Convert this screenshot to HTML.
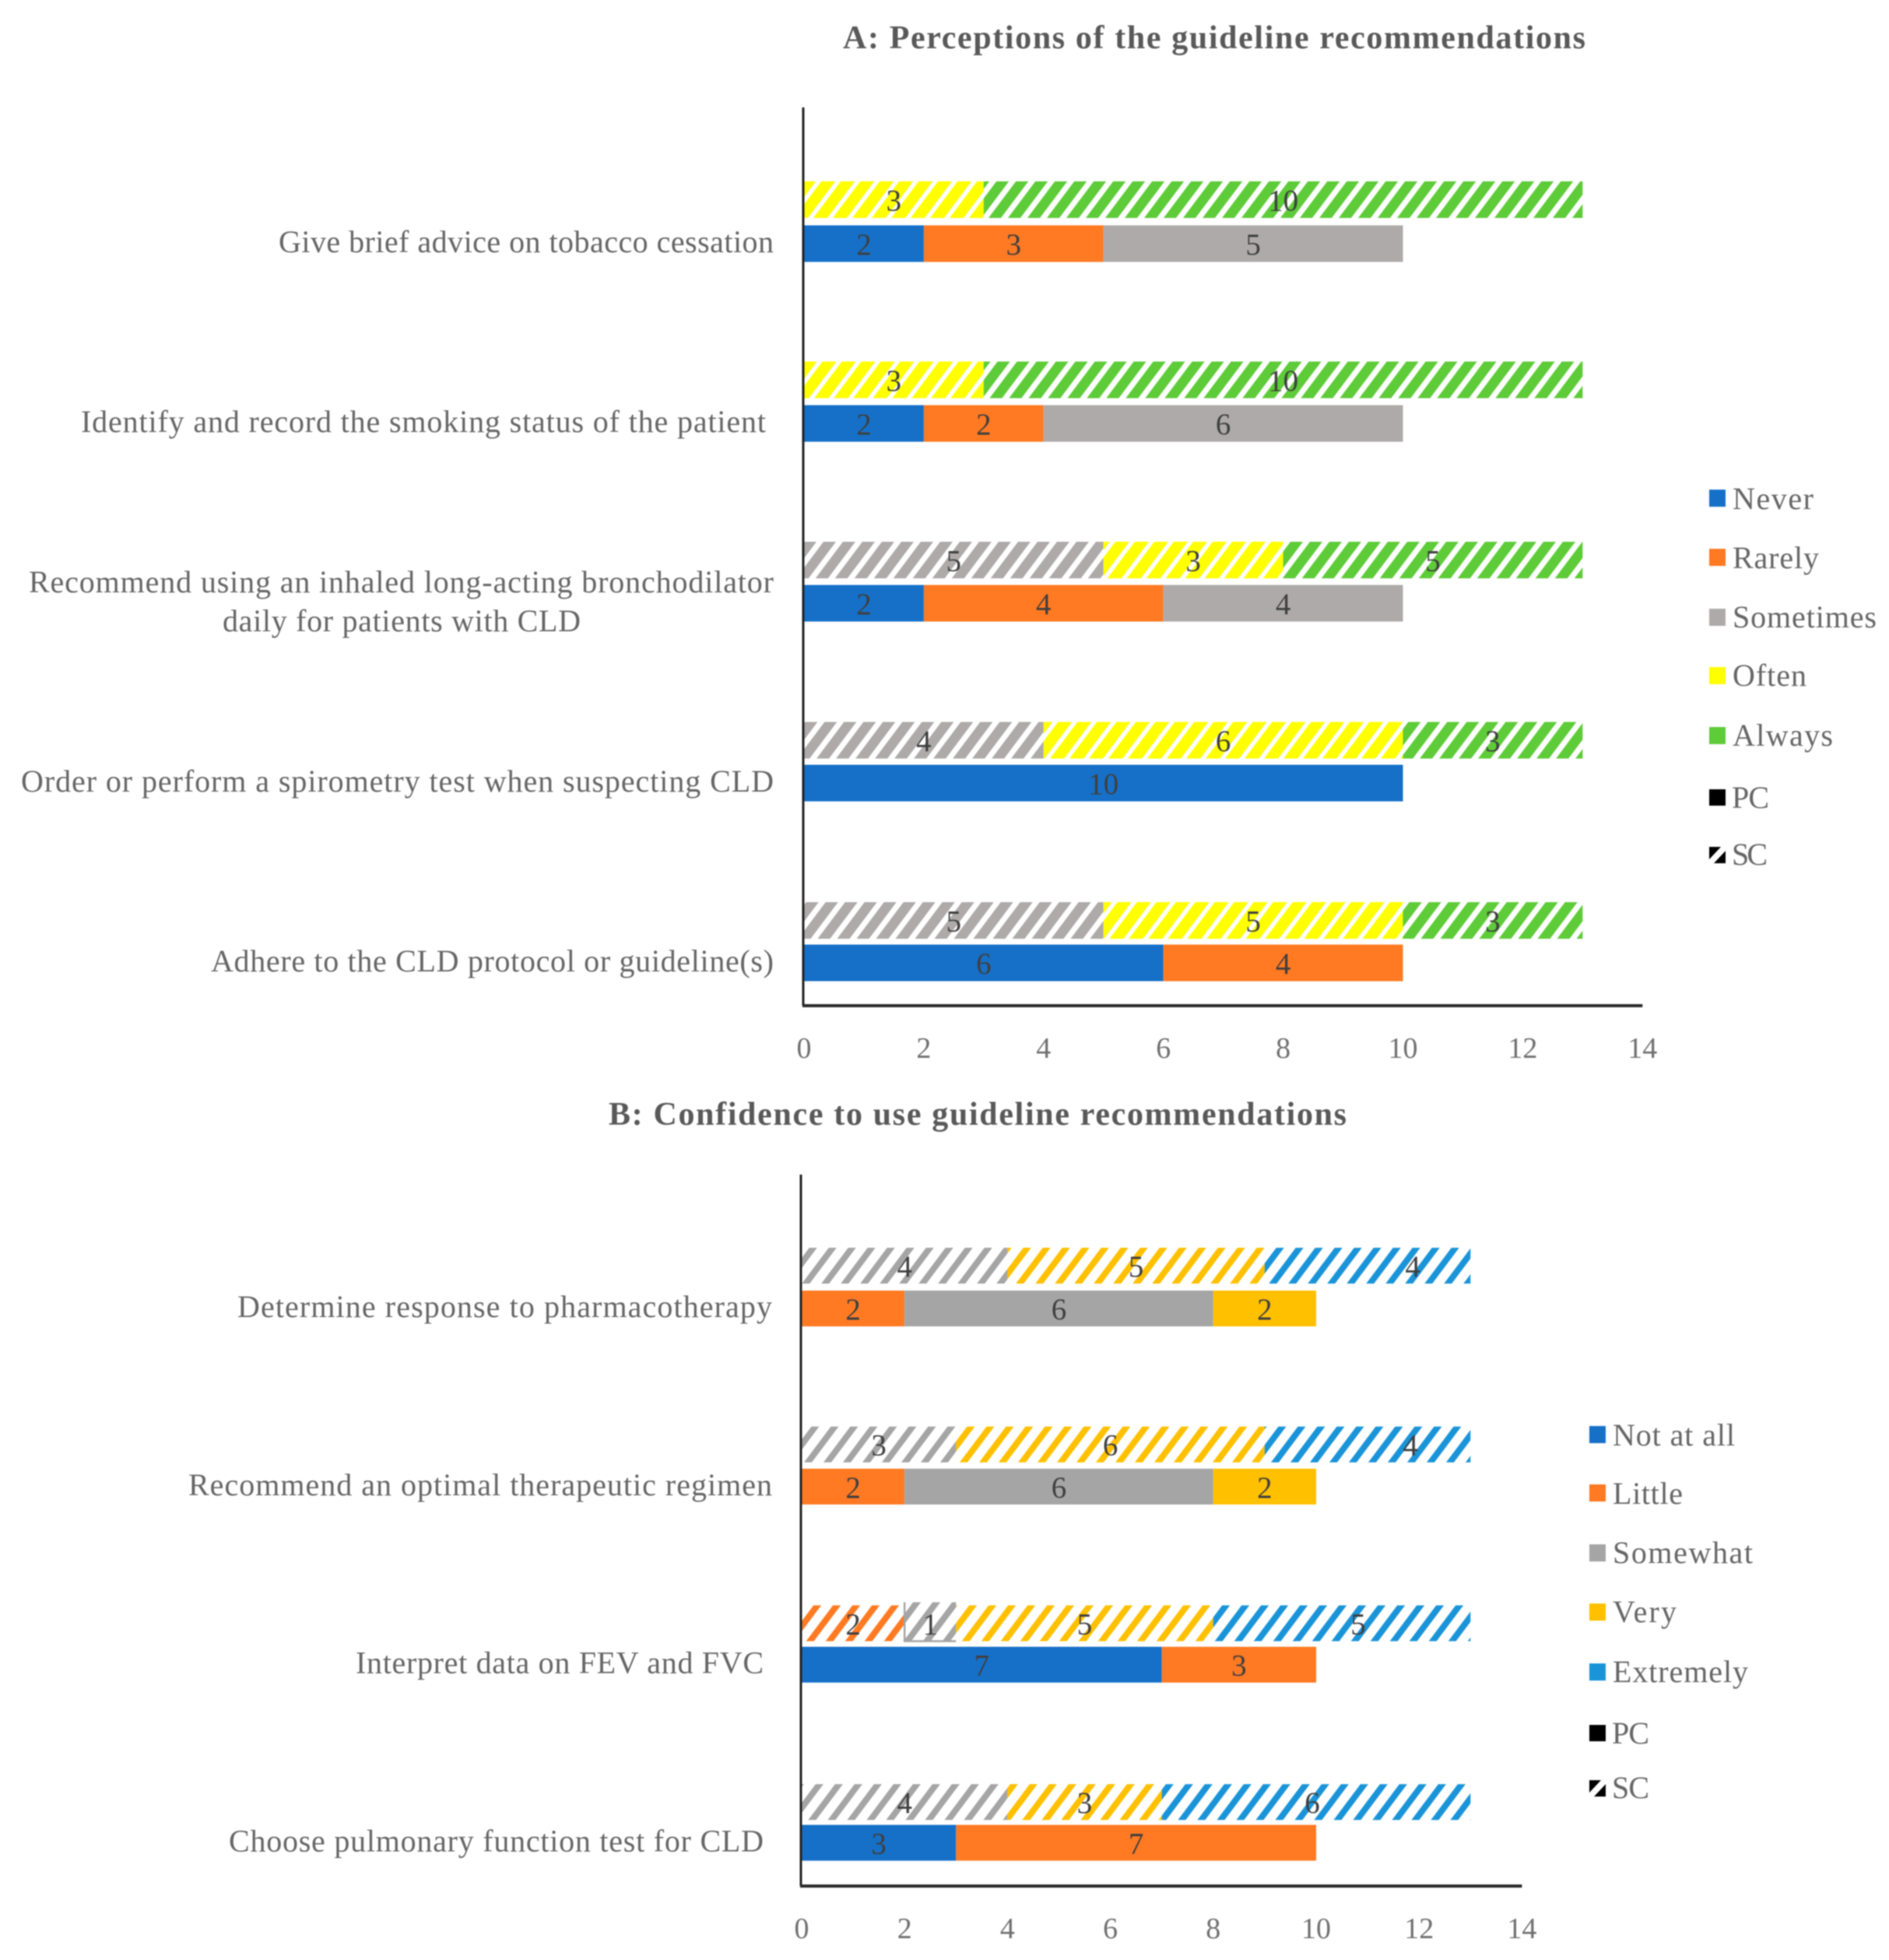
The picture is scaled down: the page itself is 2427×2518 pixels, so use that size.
<!DOCTYPE html>
<html lang="en">
<head>
<meta charset="utf-8">
<title>Perceptions and confidence in guideline recommendations</title>
<style>
html,body{margin:0;padding:0;background:#fff;}
svg{display:block;filter:blur(0.9px);}
text{font-family:"Liberation Serif",serif;}
.title{font-size:42px;font-weight:bold;fill:#595959;}
.cat{font-size:40px;fill:#666;}
.tick{font-size:38px;fill:#707070;}
.val{font-size:39px;fill:#3f3f3f;}
.leg{font-size:40px;fill:#666;}
</style>
</head>
<body>
<svg id="figure" xmlns="http://www.w3.org/2000/svg" width="2427" height="2518" viewBox="0 0 2427 2518">
  <defs id="defs"></defs>
  <rect width="2427" height="2518" fill="#fff"/>

  <text class="title" x="1083" y="62" textLength="954">A: Perceptions of the guideline recommendations</text>
  <text class="title" x="782" y="1445" textLength="948">B: Confidence to use guideline recommendations</text>

  <g>
    <g><rect x="2196" y="629" width="21" height="22" fill="#1670c8"/><text class="leg" x="2226" y="654" textLength="104">Never</text></g>
    <g><rect x="2196" y="705" width="21" height="22" fill="#ff7a22"/><text class="leg" x="2226" y="730" textLength="111">Rarely</text></g>
    <g><rect x="2196" y="782" width="21" height="22" fill="#aeaaaa"/><text class="leg" x="2226" y="806" textLength="185">Sometimes</text></g>
    <g><rect x="2196" y="857" width="21" height="22" fill="#ffff00"/><text class="leg" x="2226" y="881" textLength="95">Often</text></g>
    <g><rect x="2196" y="934" width="21" height="22" fill="#5ecb38"/><text class="leg" x="2226" y="958" textLength="129">Always</text></g>
    <g><rect x="2196" y="1014" width="21" height="21" fill="#000"/><text class="leg" x="2225" y="1038" textLength="48">PC</text></g>
    <g><rect x="2196" y="1088" width="21" height="21" fill="#000"/><polygon points="2196,1104 2211,1088 2217,1088 2217,1093 2202,1109 2196,1109" fill="#fff"/><text class="leg" x="2225" y="1111" textLength="46">SC</text></g>
  </g>

  <g>
    <g><rect x="2042" y="1832" width="21" height="22" fill="#1670c8"/><text class="leg" x="2072" y="1857" textLength="157">Not at all</text></g>
    <g><rect x="2042" y="1907" width="21" height="22" fill="#ff7a22"/><text class="leg" x="2072" y="1932" textLength="90">Little</text></g>
    <g><rect x="2042" y="1984" width="21" height="22" fill="#a5a5a5"/><text class="leg" x="2072" y="2008" textLength="180">Somewhat</text></g>
    <g><rect x="2042" y="2060" width="21" height="22" fill="#ffc000"/><text class="leg" x="2072" y="2084" textLength="82">Very</text></g>
    <g><rect x="2042" y="2137" width="21" height="22" fill="#1a94d8"/><text class="leg" x="2072" y="2161" textLength="174">Extremely</text></g>
    <g><rect x="2042" y="2216" width="21" height="21" fill="#000"/><text class="leg" x="2071" y="2240" textLength="48">PC</text></g>
    <g><rect x="2042" y="2287" width="21" height="21" fill="#000"/><polygon points="2042,2303 2057,2287 2063,2287 2063,2292 2048,2308 2042,2308" fill="#fff"/><text class="leg" x="2071" y="2310" textLength="48">SC</text></g>
  </g>

  <g id="chart-a"></g>
  <g id="chart-b"></g>
</svg>

<script>
// ---- Chart A data (rows top to bottom) ----
const aCategories = [
  ["Give brief advice on tobacco cessation"],
  ["Identify and record the smoking status of the patient "],
  ["Recommend using an inhaled long-acting bronchodilator", "daily for patients with CLD"],
  ["Order or perform a spirometry test when suspecting CLD"],
  ["Adhere to the CLD protocol or guideline(s)"]
];
const aSeriesNames = ["Never", "Rarely", "Sometimes", "Often", "Always"];
const aNeverPC     = [2, 2, 2, 10, 6];
const aRarelyPC    = [3, 2, 4, 0, 4];
const aSometimesPC = [5, 6, 4, 0, 0];
const aOftenPC     = [0, 0, 0, 0, 0];
const aAlwaysPC    = [0, 0, 0, 0, 0];
const aNeverSC     = [0, 0, 0, 0, 0];
const aRarelySC    = [0, 0, 0, 0, 0];
const aSometimesSC = [0, 0, 5, 4, 5];
const aOftenSC     = [3, 3, 3, 6, 5];
const aAlwaysSC    = [10, 10, 5, 3, 3];
const aTicks = [0, 2, 4, 6, 8, 10, 12, 14];

// ---- Chart B data (rows top to bottom) ----
const bCategories = [
  ["Determine response to pharmacotherapy"],
  ["Recommend an optimal therapeutic regimen"],
  ["Interpret data on FEV and FVC "],
  ["Choose pulmonary function test for CLD "]
];
const bSeriesNames = ["Not at all", "Little", "Somewhat", "Very", "Extremely"];
const bNotAtAllPC = [0, 0, 7, 3];
const bLittlePC   = [2, 2, 3, 7];
const bSomewhatPC = [6, 6, 0, 0];
const bVeryPC     = [2, 2, 0, 0];
const bExtremelyPC= [0, 0, 0, 0];
const bNotAtAllSC = [0, 0, 0, 0];
const bLittleSC   = [0, 0, 2, 0];
const bSomewhatSC = [4, 3, 1, 4];
const bVerySC     = [5, 6, 5, 3];
const bExtremelySC= [4, 4, 5, 6];
const bTicks = [0, 2, 4, 6, 8, 10, 12, 14];

const SVGNS = "http://www.w3.org/2000/svg";
const defs = document.getElementById("defs");

function make(tag, attrs, parent) {
  const el = document.createElementNS(SVGNS, tag);
  for (const k in attrs) el.setAttribute(k, attrs[k]);
  if (parent) parent.appendChild(el);
  return el;
}
function slug(s) {
  return String(s).trim().toLowerCase().replace(/[^a-z0-9]+/g, "-");
}
function hatch(id, color, period, stripe, phase) {
  const p = make("pattern", {id: id, patternUnits: "userSpaceOnUse", width: period, height: 100,
    patternTransform: "translate(" + phase + ",0) skewX(-36.87)"}, defs);
  make("rect", {x: 0, y: 0, width: stripe, height: 100, fill: color}, p);
}

function renderChart(cfg) {
  const root = document.getElementById(cfg.id);
  const xScale = v => cfg.x0 + v * cfg.unit;
  const hatchTop = i => cfg.hatchTop0 + cfg.hatchStep * i;
  const solidTop = i => cfg.solidTop0 + cfg.solidStep * i;

  cfg.colors.forEach((c, s) => hatch(cfg.id + "-h" + s, c, cfg.period, cfg.stripes[s], cfg.phase));

  function stack(seriesList, top, hatched, kind) {
    cfg.categories.forEach((cat, i) => {
      let sum = 0;
      seriesList.forEach((vals, s) => {
        const v = vals[i];
        if (!v) return;
        const x = xScale(sum);
        const w = xScale(sum + v) - x;
        const single = hatched && v === 1;
        const rise = single ? 4 : 0;
        const seg = make("rect", {x: x, y: top(i) - rise, width: w, height: cfg.barH + rise,
          fill: hatched ? "url(#" + cfg.id + "-h" + s + ")" : cfg.colors[s]}, root);
        
        
        if (single) {
          const edge = make("polyline", {
            points: x + "," + (top(i) - rise) + " " + x + "," + (top(i) + cfg.barH) + " " + (x + w) + "," + (top(i) + cfg.barH),
            fill: "none", stroke: cfg.colors[s], "stroke-width": 2.5}, root);
          
          
        }
        const shift = (hatched && cfg.lastLabelShift && s === seriesList.length - 1) ? cfg.lastLabelShift[i] : 0;
        const lab = make("text", {"class": "val", x: x + w / 2 + shift, y: top(i) + cfg.barH / 2 + 14, "text-anchor": "middle"}, root);
        lab.textContent = v;
        
        
        sum += v;
      });
    });
  }
  stack(cfg.sc, hatchTop, true, "sc");
  stack(cfg.pc, solidTop, false, "pc");

  // category labels
  cfg.categories.forEach((lines, i) => {
    const cy = solidTop(i) + cfg.barH / 2 - 2;
    lines.forEach((line, n) => {
      const inset = line.endsWith(" ") ? cfg.trailingInset : 0;
      const y = cy + (n - (lines.length - 1) / 2) * 50 + 13;
      const t = make("text", {"class": "cat", y: y, "text-anchor": "middle"}, root);
      t.textContent = line.trim();
      const w = cfg.labelWidths[i][n];
      const end = n === 0 ? cfg.labelEnd - inset : cfg.secondLineEnd;
      t.setAttribute("x", end - w / 2);
      t.setAttribute("textLength", w);
      
      
    });
  });

  // axes
  const yAxis = make("line", {x1: cfg.x0 - 1, x2: cfg.x0 - 1, y1: cfg.axisTop, y2: cfg.axisBottom, stroke: "#222", "stroke-width": 3}, root);
  
  
  const xAxis = make("line", {x1: cfg.x0 - 2, x2: xScale(cfg.ticks[cfg.ticks.length - 1]), y1: cfg.axisBottom, y2: cfg.axisBottom, stroke: "#2a2a2a", "stroke-width": 4}, root);
  
  

  cfg.ticks.forEach(t => {
    const lab = make("text", {"class": "tick", x: xScale(t), y: cfg.tickY, "text-anchor": "middle"}, root);
    lab.textContent = t;
    
    
  });
}

renderChart({
  id: "chart-a", x0: 1033, unit: 76.95,
  hatchTop0: 233, hatchStep: 231.5, solidTop0: 289.5, solidStep: 231, barH: 47,
  axisTop: 138, axisBottom: 1292, tickY: 1359, labelEnd: 994, secondLineEnd: 746, trailingInset: 10,
  period: 25, phase: 5, stripes: [15, 15, 16, 18, 16],
  colors: ["#1670c8", "#ff7a22", "#aeaaaa", "#ffff00", "#5ecb38"],
  names: aSeriesNames, categories: aCategories, ticks: aTicks,
  pc: [aNeverPC, aRarelyPC, aSometimesPC, aOftenPC, aAlwaysPC],
  sc: [aNeverSC, aRarelySC, aSometimesSC, aOftenSC, aAlwaysSC],
  labelWidths: [[636], [880], [957, 460], [967], [723]]
});

renderChart({
  id: "chart-b", x0: 1030, unit: 66.1,
  hatchTop0: 1603, hatchStep: 229.7, solidTop0: 1658, solidStep: 228.8, barH: 46,
  axisTop: 1509, axisBottom: 2423, tickY: 2490, labelEnd: 992, secondLineEnd: 992, trailingInset: 11,
  period: 25, phase: 17, stripes: [10, 10, 10, 10, 10],
  colors: ["#1670c8", "#ff7a22", "#a5a5a5", "#ffc000", "#1a94d8"],
  names: bSeriesNames, categories: bCategories, ticks: bTicks,
  pc: [bNotAtAllPC, bLittlePC, bSomewhatPC, bVeryPC, bExtremelyPC],
  sc: [bNotAtAllSC, bLittleSC, bSomewhatSC, bVerySC, bExtremelySC],
  lastLabelShift: [58, 55, 21, -5],
  labelWidths: [[687], [750], [524], [687]]
});
</script>
</body>
</html>
